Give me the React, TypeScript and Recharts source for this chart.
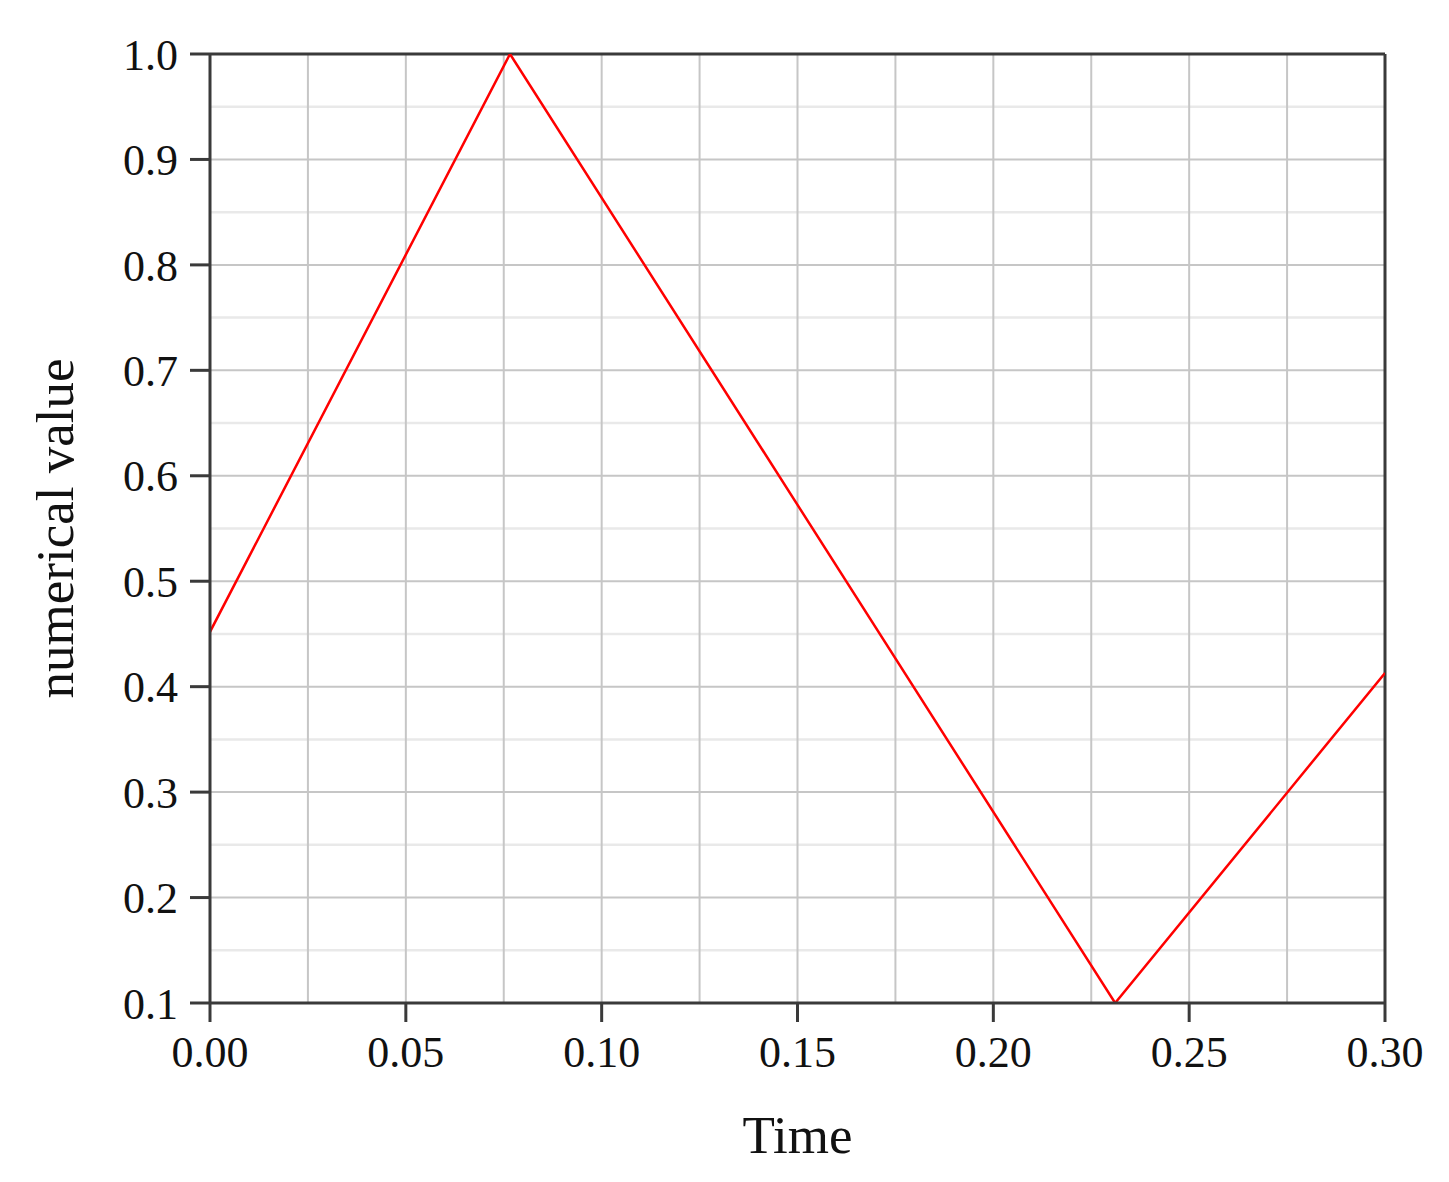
import React from 'react';
import { LineChart, Line, XAxis, YAxis, ReferenceLine, Label } from 'recharts';

// corner points of the triangle wave
const times = [0, 0.0766, 0.2311, 0.3];
const values = [0.452, 1.0, 0.1, 0.413];

const xTicks = [0, 0.05, 0.1, 0.15, 0.2, 0.25, 0.3];
const yTicks = [0.1, 0.2, 0.3, 0.4, 0.5, 0.6, 0.7, 0.8, 0.9, 1.0];

// grid positions
const gridX = [0.025, 0.05, 0.075, 0.1, 0.125, 0.15, 0.175, 0.2, 0.225, 0.25, 0.275];
const gridYMajor = [0.2, 0.3, 0.4, 0.5, 0.6, 0.7, 0.8, 0.9];
const gridYMinor = [0.15, 0.25, 0.35, 0.45, 0.55, 0.65, 0.75, 0.85, 0.95];

const data = times.map((t, i) => ({ t, v: values[i] }));

const FONT = '"Liberation Serif", "Times New Roman", serif';
const AXIS = '#3a3a3a';

const App = () => {
  return (
    <LineChart
      width={1433}
      height={1166}
      data={data}
      margin={{ top: 46, right: 56, left: 32, bottom: 0 }}
      style={{ fontFamily: FONT }}
    >
      {gridYMinor.map((y) => (
        <ReferenceLine key={'ym' + y} y={y} stroke="#e9e9e9" strokeWidth={2.5} />
      ))}
      {gridYMajor.map((y) => (
        <ReferenceLine key={'y' + y} y={y} stroke="#c6c6c6" strokeWidth={2} />
      ))}
      {gridX.map((x) => (
        <ReferenceLine key={'x' + x} x={x} stroke="#c6c6c6" strokeWidth={2} />
      ))}
      <ReferenceLine y={1.0} stroke={AXIS} strokeWidth={3} />
      <ReferenceLine x={0.3} stroke={AXIS} strokeWidth={3} />
      <XAxis
        dataKey="t"
        type="number"
        domain={[0, 0.3]}
        ticks={xTicks}
        tickFormatter={(v) => v.toFixed(2)}
        interval={0}
        height={171}
        tickSize={19}
        tickMargin={14}
        stroke={AXIS}
        strokeWidth={3}
        tick={{ fill: '#111', fontSize: 44, fontFamily: FONT }}
        allowDataOverflow
      >
        <Label
          value="Time"
          position="insideBottom"
          offset={21}
          style={{ fill: '#111', fontSize: 53, fontFamily: FONT }}
        />
      </XAxis>
      <YAxis
        type="number"
        domain={[0.1, 1.0]}
        ticks={yTicks}
        tickFormatter={(v) => v.toFixed(1)}
        interval={0}
        width={170}
        tickSize={20}
        tickMargin={12}
        stroke={AXIS}
        strokeWidth={3}
        tick={{ fill: '#111', fontSize: 44, fontFamily: FONT }}
        allowDataOverflow
      >
        <Label
          value="numerical value"
          position="insideLeft"
          angle={-90}
          offset={14}
          textAnchor="middle"
          style={{ fill: '#111', fontSize: 53, fontFamily: FONT, textAnchor: 'middle' }}
        />
      </YAxis>
      <Line
        type="linear"
        dataKey="v"
        stroke="#ff0000"
        strokeWidth={2.5}
        dot={false}
        isAnimationActive={false}
      />
    </LineChart>
  );
};

export default App;
